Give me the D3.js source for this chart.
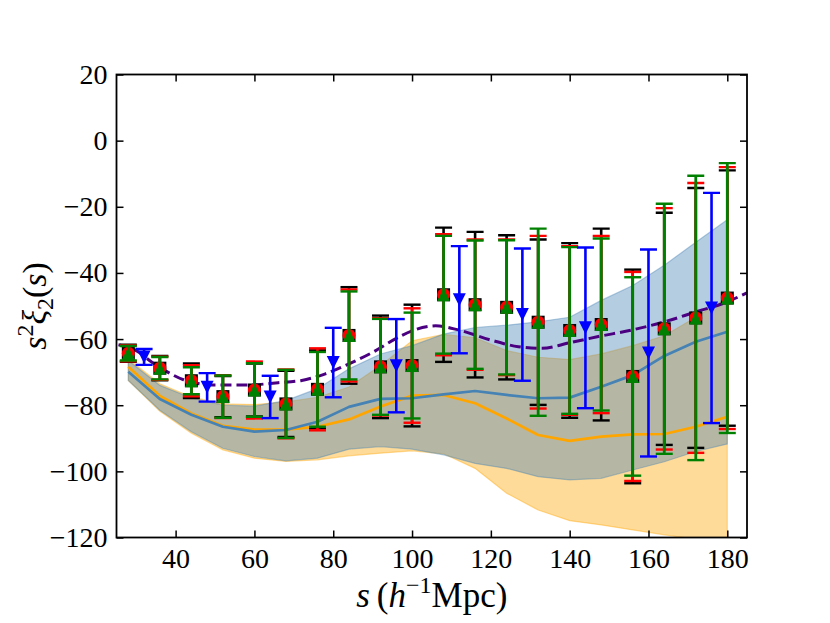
<!DOCTYPE html>
<html>
<head>
<meta charset="utf-8">
<script src="https://cdn.jsdelivr.net/npm/d3@7"></script>
<style>
  html, body { margin: 0; padding: 0; background: #ffffff; }
  svg { display: block; }
  text { font-family: "Liberation Serif", "Times New Roman", serif; fill: #000; }
</style>
</head>
<body>
<svg id="chart" width="830" height="623"></svg>
<script>
// ---------------- data ----------------
const xTicks = [40, 60, 80, 100, 120, 140, 160, 180];
const yTicks = [20, 0, -20, -40, -60, -80, -100, -120];

// measured points (three overlapping series share x and central value)
const xMain   = [28, 36, 44, 52, 60, 68, 76, 84, 92, 100, 108, 116, 124, 132, 140, 148, 156, 164, 172, 180];
const valMain = [-64.3, -68.8, -72.6, -77.4, -75.4, -79.6, -75.2, -58.9, -68.4, -68.0, -46.6, -49.6, -50.4, -54.9, -57.4, -55.6, -71.3, -56.9, -53.6, -47.6];
const errBlack = [2.6, 3.7, 5.2, 6.2, 8.0, 10.0, 11.8, 14.6, 15.5, 18.4, 20.3, 22.0, 21.8, 25.0, 26.4, 29.0, 32.3, 35.1, 39.3, 38.6];
const errRed   = [2.4, 3.5, 4.7, 6.5, 8.6, 10.4, 12.4, 13.9, 14.7, 17.3, 18.3, 19.7, 20.5, 26.1, 25.5, 26.8, 31.6, 36.5, 40.8, 39.6];
const errGreen = [2.2, 3.4, 4.1, 6.4, 8.1, 10.3, 11.3, 13.3, 14.5, 16.0, 17.8, 19.4, 20.3, 28.3, 25.2, 26.0, 30.0, 37.8, 43.0, 40.8];

// blue down-triangle series
const xBlue   = [32, 48, 64, 80, 96, 112, 128, 144, 160, 176];
const valBlue = [-65.4, -74.6, -77.5, -67.1, -68.05, -48.1, -52.6, -56.6, -64.2, -50.6];
const errBlue = [2.4, 4.3, 6.4, 10.5, 14.1, 16.2, 20.0, 24.3, 31.3, 34.8];

// model curves and bands
const modelX     = [28, 36, 44, 52, 60, 68, 76, 84, 92, 100, 108, 116, 124, 132, 140, 148, 156, 164, 172, 180];
const blueLine   = [-69.9, -78.1, -82.9, -86.5, -88.0, -87.5, -85.0, -80.5, -78.1, -77.9, -76.7, -75.7, -76.9, -77.9, -77.7, -74.4, -70.9, -65.1, -60.8, -57.8];
const blueTop    = [-66.5, -74.0, -77.8, -80.0, -80.3, -78.6, -75.0, -69.0, -64.5, -62.0, -58.5, -56.5, -55.8, -54.8, -53.4, -48.3, -43.8, -37.7, -30.7, -23.9];
const blueBot    = [-72.5, -81.5, -88.0, -93.0, -95.5, -96.8, -96.0, -93.3, -92.5, -93.3, -95.0, -97.6, -99.1, -101.6, -102.6, -102.1, -99.6, -97.1, -94.0, -91.7];
const orangeLine = [-68.4, -77.2, -82.5, -86.2, -87.4, -87.4, -86.5, -84.3, -80.4, -77.1, -76.9, -79.4, -84.0, -89.0, -90.8, -89.5, -88.8, -88.7, -86.5, -83.5];
const orangeTop  = [-66.0, -73.5, -77.5, -79.6, -79.8, -79.0, -77.6, -74.5, -68.0, -60.5, -58.6, -59.6, -63.5, -65.5, -66.2, -64.5, -62.0, -59.0, -53.4, -47.5];
const orangeBot  = [-72.5, -81.8, -88.5, -93.5, -96.0, -97.0, -96.5, -95.3, -94.5, -93.8, -94.7, -99.1, -106.6, -111.7, -114.9, -116.2, -117.7, -119.2, -120.5, -122.0];

// purple dashed curve
const purpleX = [25.5, 30, 34, 38, 42, 46, 50, 58, 66, 72, 78, 84, 90, 96, 100, 106, 112, 120, 127, 133, 140, 147, 156, 164, 172, 179, 185];
const purpleY = [-61.7, -63.5, -67.0, -70.0, -72.3, -73.5, -73.9, -73.9, -73.2, -72.5, -70.5, -67.5, -64.0, -59.8, -57.5, -56.0, -57.3, -60.3, -62.3, -62.8, -61.1, -59.3, -57.2, -54.8, -51.8, -49.2, -46.0];

// ---------------- layout ----------------
const L = 116.5, R = 747, T = 74.5, B = 537.5;
const x = d3.scaleLinear().domain([25, 185]).range([L, R]);
const y = d3.scaleLinear().domain([-120, 20]).range([B, T]);

const svg = d3.select("#chart");
svg.append("defs").append("clipPath").attr("id", "clip")
  .append("rect").attr("x", L).attr("y", T).attr("width", R - L).attr("height", B - T);

const plot = svg.append("g").attr("clip-path", "url(#clip)");

const fmt = d => d < 0 ? "\u2212" + Math.abs(d) : String(d);

// bands
function band(topV, botV, color) {
  const area = d3.area()
    .x((d, i) => x(modelX[i]))
    .y0((d, i) => y(botV[i]))
    .y1((d, i) => y(topV[i]));
  plot.append("path").datum(modelX).attr("d", area)
    .attr("fill", color).attr("fill-opacity", 0.4)
    .attr("stroke", color).attr("stroke-opacity", 0.4).attr("stroke-width", 1.2);
}
band(orangeTop, orangeBot, "orange");
band(blueTop, blueBot, "steelblue");

function drawLine(vals, color) {
  const ln = d3.line().x((d, i) => x(modelX[i])).y((d, i) => y(vals[i]));
  plot.append("path").datum(modelX).attr("d", ln)
    .attr("fill", "none").attr("stroke", color).attr("stroke-width", 2.7)
    .attr("stroke-linejoin", "round");
}
drawLine(orangeLine, "orange");
drawLine(blueLine, "steelblue");

// purple dashed
const pl = d3.line().x((d, i) => x(purpleX[i])).y((d, i) => y(purpleY[i])).curve(d3.curveMonotoneX);
plot.append("path").datum(purpleX).attr("d", pl)
  .attr("fill", "none").attr("stroke", "indigo").attr("stroke-width", 3)
  .attr("stroke-dasharray", "11,5");

// error bars
const capHalf = 8.5;
function errorbars(xs, vals, errs, color, lw, markerFn) {
  const g = plot.append("g");
  xs.forEach((xv, i) => {
    const cx = x(xv), y1 = y(vals[i] + errs[i]), y2 = y(vals[i] - errs[i]);
    g.append("line").attr("x1", cx).attr("x2", cx).attr("y1", y1).attr("y2", y2)
      .attr("stroke", color).attr("stroke-width", lw);
    [y1, y2].forEach(cy => {
      g.append("line").attr("x1", cx - capHalf).attr("x2", cx + capHalf).attr("y1", cy).attr("y2", cy)
        .attr("stroke", color).attr("stroke-width", 2.4);
    });
  });
  xs.forEach((xv, i) => markerFn(g, x(xv), y(vals[i])));
}

const ms = 6.5;
errorbars(xMain, valMain, errBlack, "black", 2.6, (g, cx, cy) => {
  g.append("rect").attr("x", cx - ms).attr("y", cy - ms).attr("width", 2 * ms).attr("height", 2 * ms).attr("fill", "black");
});
errorbars(xMain, valMain, errRed, "red", 2.6, (g, cx, cy) => {
  g.append("circle").attr("cx", cx).attr("cy", cy).attr("r", ms).attr("fill", "red");
});
errorbars(xMain, valMain, errGreen, "green", 2.8, (g, cx, cy) => {
  g.append("path").attr("d", `M${cx},${cy - ms} L${cx - ms},${cy + ms} L${cx + ms},${cy + ms} Z`).attr("fill", "green");
});
errorbars(xBlue, valBlue, errBlue, "blue", 2.6, (g, cx, cy) => {
  g.append("path").attr("d", `M${cx},${cy + ms} L${cx - ms},${cy - ms} L${cx + ms},${cy - ms} Z`).attr("fill", "blue");
});

// ---------------- axes ----------------
const tickLen = 7;
const ax = svg.append("g");
const axBottom = ax.append("g").attr("transform", `translate(0,${B})`)
  .call(d3.axisBottom(x).tickValues(xTicks).tickSizeInner(-tickLen).tickSizeOuter(0).tickPadding(11).tickFormat(fmt));
const axLeft = ax.append("g").attr("transform", `translate(${L},0)`)
  .call(d3.axisLeft(y).tickValues(yTicks).tickSizeInner(-tickLen).tickSizeOuter(0).tickPadding(9).tickFormat(fmt));
const axTop = ax.append("g").attr("transform", `translate(0,${T})`)
  .call(d3.axisTop(x).tickValues(xTicks).tickSizeInner(-tickLen).tickSizeOuter(0).tickFormat(""));
const axRight = ax.append("g").attr("transform", `translate(${R},0)`)
  .call(d3.axisRight(y).tickValues(yTicks).tickSizeInner(-tickLen).tickSizeOuter(0).tickFormat(""));
[axBottom, axLeft, axTop, axRight].forEach(g => {
  g.select(".domain").remove();
  g.selectAll(".tick line").attr("stroke", "black").attr("stroke-width", 1.5);
  g.selectAll("text").attr("font-family", "Liberation Serif, serif").attr("font-size", 28).attr("fill", "black");
});

svg.append("rect").attr("x", L).attr("y", T).attr("width", R - L).attr("height", B - T)
  .attr("fill", "none").attr("stroke", "black").attr("stroke-width", 1.8);

// axis labels
const xl = svg.append("text").attr("x", (L + R) / 2).attr("y", 607).attr("text-anchor", "middle")
  .attr("font-size", 35);
xl.append("tspan").attr("font-style", "italic").text("s");
xl.append("tspan").text("\u2009(");
xl.append("tspan").attr("font-style", "italic").text("h");
xl.append("tspan").attr("font-size", 24).attr("dy", -14).text("\u22121");
xl.append("tspan").attr("dy", 14).text("Mpc)");

const yl = svg.append("text").attr("transform", `translate(46,${(T + B) / 2}) rotate(-90)`)
  .attr("text-anchor", "middle").attr("font-size", 34);
yl.append("tspan").attr("font-style", "italic").text("s");
yl.append("tspan").attr("font-size", 24).attr("dy", -13).text("2");
yl.append("tspan").attr("font-style", "italic").attr("dy", 13).text("\u03BE");
yl.append("tspan").attr("font-size", 24).attr("dy", 7).text("2");
yl.append("tspan").attr("dy", -7).text("(");
yl.append("tspan").attr("font-style", "italic").text("s");
yl.append("tspan").text(")");
</script>
</body>
</html>
